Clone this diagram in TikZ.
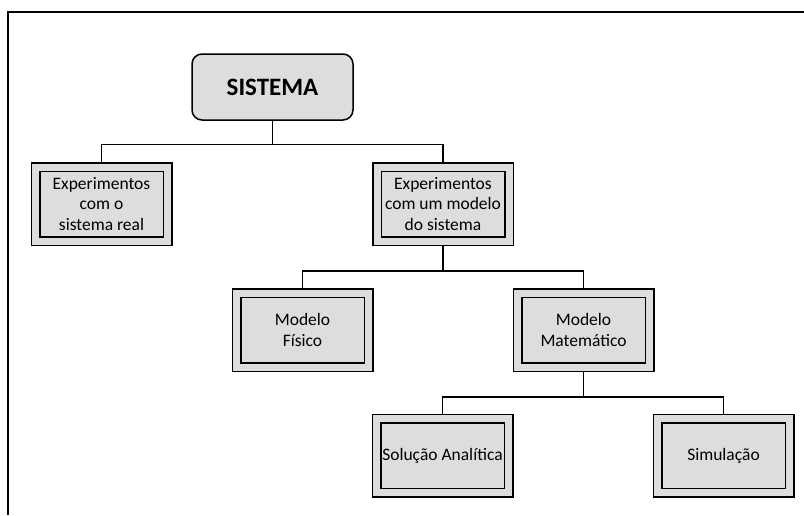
\documentclass[tikz,border=0pt]{standalone}
\usepackage{fontspec}
\setmainfont{Carlito}
\definecolor{boxgray}{RGB}{221,221,221}
\tikzset{
    sisbox/.style  = {draw, fill=boxgray, rounded corners=10pt, line width=1.5pt,
                      minimum width=161pt, minimum height=66pt, outer sep=0.75pt,
                      font=\fontsize{25}{29}\selectfont\bfseries},
    framebox/.style = {draw, double=boxgray, double distance=7pt, line width=1.5pt,
                      fill=boxgray, minimum width=132pt, minimum height=74pt,
                      inner sep=0pt, outer sep=5pt, align=center,
                      font=\fontsize{17.5}{20.5}\selectfont},
    ramo/.style    = {line width=1.4pt}
}
\begin{document}
\begin{tikzpicture}[x=1pt, y=-1pt]
            \useasboundingbox (0,0) rectangle (804,515);
            % Rahmen
            \draw [line width=2.6pt] (8,515) -- (8,12) -- (804,12);
            % Knoten
            \node [sisbox]   (sis)  at (272.5, 87)   {SISTEMA};
            \node [framebox] (exp1) at (101.5, 204)  {Experimentos\\com o\\sistema real};
            \node [framebox] (exp2) at (443,   204)  {Experimentos\\com um modelo\\do sistema};
            \node [framebox] (fis)  at (302.5, 330)  {Modelo\\Físico};
            \node [framebox] (mat)  at (583.5, 330)  {Modelo\\Matemático};
            \node [framebox] (ana)  at (442.5, 455.5) {Solução Analítica};
            \node [framebox] (sim)  at (723.5, 455.5) {Simulação};
            % Verbindungen
            \draw [ramo] (sis.south)  -- ++(0,24) -| (exp1.north);
            \draw [ramo] (sis.south)  -- ++(0,24) -| (exp2.north);
            \draw [ramo] (exp2.south) -- ++(0,25) -| (fis.north);
            \draw [ramo] (exp2.south) -- ++(0,25) -| (mat.north);
            \draw [ramo] (mat.south)  -- ++(0,25) -| (ana.north);
            \draw [ramo] (mat.south)  -- ++(0,25) -| (sim.north);
        \end{tikzpicture}
\end{document}
